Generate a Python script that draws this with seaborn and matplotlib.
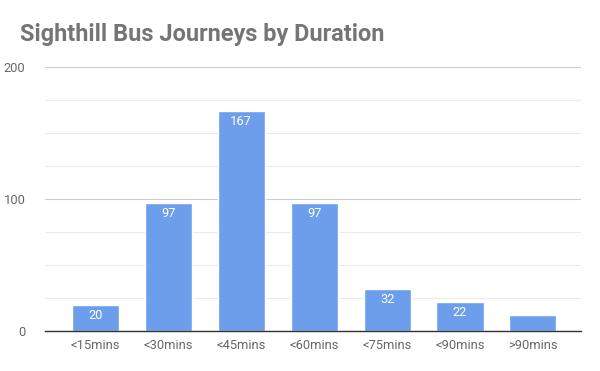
import matplotlib
matplotlib.use("Agg")
import matplotlib.pyplot as plt
import seaborn as sns
import pandas as pd

categories = ["<15mins", "<30mins", "<45mins", "<60mins", "<75mins", "<90mins", ">90mins"]
values = [20, 97, 167, 97, 32, 22, 12]

df = pd.DataFrame({"cat": categories, "val": values})

sns.set_theme(style="white")
plt.rcParams['font.family'] = ['Roboto', 'DejaVu Sans']

fig = plt.figure(figsize=(6, 3.71), dpi=100)
ax = fig.add_axes([45/600, 1-331/371, (581-45)/600, (331-67)/371])

sns.barplot(data=df, x="cat", y="val", color="#6d9eeb", saturation=1, width=0.645, ax=ax, zorder=3)

ax.set_xlim(-0.693, 6.66)
ax.set_ylim(0, 200)
ax.set_yticks([0, 100, 200])
ax.set_yticks([25, 50, 75, 125, 150, 175], minor=True)
ax.grid(axis="y", which="major", color="#cccccc", lw=0.8, zorder=0)
ax.grid(axis="y", which="minor", color="#ececec", lw=0.8, zorder=0)
for s in ["top", "right", "left"]:
    ax.spines[s].set_visible(False)
ax.spines["bottom"].set_color("#333333")
ax.spines["bottom"].set_linewidth(1)
ax.spines["bottom"].set_zorder(4)
ax.tick_params(axis="both", which="both", length=0, labelsize=9.3, colors="#666666")
ax.tick_params(axis="x", pad=6)
ax.tick_params(axis="y", pad=14)
ax.set_xlabel("")
ax.set_ylabel("")

for i, v in enumerate(values):
    if v >= 15:
        ax.text(i, v - 3, str(v), ha="center", va="top", color="white", fontsize=9.3, zorder=5)
    else:
        ax.text(i, v + 3, str(v), ha="center", va="bottom", color="white", fontsize=9.3, zorder=5)

fig.text(20/600, 1-34/371, "Sighthill Bus Journeys by Duration", fontsize=16.9, fontweight="bold",
         color="#757575", ha="left", va="center")

fig.savefig("out.png", dpi=100)
